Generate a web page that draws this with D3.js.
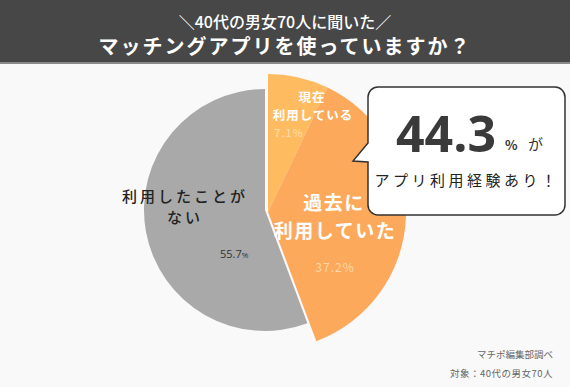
<!DOCTYPE html>
<html>
<head>
<meta charset="utf-8">
<script src="https://cdn.jsdelivr.net/npm/d3@7"></script>
<style>
  body { margin: 0; background: #f9f9f9; }
  svg { display: block; font-family: "Noto Sans CJK JP", "Noto Sans", sans-serif; }
</style>
</head>
<body>
<div id="canvas"></div>
<script>
// data
const categories = ['現在利用している', '過去に利用していた', '利用したことがない'];
const values = [7.1, 37.2, 55.7];
const colors = ['#ffbb60', '#fca95c', '#a9a9a9'];
const usedTotal = 44.3;

const width = 570;
const height = 387;

const svg = d3.select('#canvas')
    .append('svg').attr('width', width).attr('height', height);

svg.append('rect').attr('width', width).attr('height', height).attr('fill', '#f9f9f9');

// header
svg.append('rect').attr('width', width).attr('height', 62).attr('fill', '#474747');
svg.append('rect').attr('y', 62).attr('width', width).attr('height', 2).attr('fill', '#8a8a8a');
svg.append('text')
    .attr('x', width / 2).attr('y', 28)
    .attr('text-anchor', 'middle').attr('fill', '#fff')
    .attr('font-size', 16).attr('font-weight', 500)
    .text('＼40代の男女70人に聞いた／');
svg.append('text')
    .attr('x', width / 2).attr('y', 54)
    .attr('text-anchor', 'middle').attr('fill', '#fff')
    .attr('font-size', 20).attr('font-weight', 700)
    .attr('letter-spacing', 2)
    .text('マッチングアプリを使っていますか？');

// pie
const pie = d3.pie().sort(null).value(d => d);
const arcs = pie(values);

// used slices are pulled out and drawn bigger
const bigArc = d3.arc().innerRadius(0).outerRadius(138);
const smallArc = d3.arc().innerRadius(0).outerRadius(121);

const gGray = svg.append('g').attr('transform', 'translate(265,210)');
gGray.append('path')
    .attr('d', smallArc(arcs[2]))
    .attr('fill', colors[2]);

const gOrange = svg.append('g').attr('transform', 'translate(268,212)');
gOrange.selectAll('path')
    .data(arcs.slice(0, 2))
    .join('path')
    .attr('d', bigArc)
    .attr('fill', (d, i) => colors[i]);

// slice labels
const labelLines = [
    { t: '現在', x: 312, y: 102, size: 12.5, fill: '#fff', weight: 700, ls: 1 },
    { t: '利用している', x: 313, y: 120, size: 12.5, fill: '#fff', weight: 700, ls: 1 },
    { t: values[0] + '%', x: 289, y: 137, size: 11, fill: '#ffe0b0', weight: 400, ls: 1 },
    { t: '過去に', x: 334, y: 210, size: 19, fill: '#fff', weight: 700, ls: 1.5 },
    { t: '利用していた', x: 335, y: 238, size: 19, fill: '#fff', weight: 700, ls: 1.5 },
    { t: values[1] + '%', x: 335, y: 272, size: 12, fill: '#ffd7a8', weight: 400, ls: 1 },
    { t: '利用したことが', x: 185, y: 202, size: 15, fill: '#222', weight: 500, ls: 3 },
    { t: 'ない', x: 185, y: 223, size: 15, fill: '#222', weight: 500, ls: 3 }
];
svg.selectAll('text.slice')
    .data(labelLines)
    .join('text')
    .attr('class', 'slice')
    .attr('x', d => d.x).attr('y', d => d.y)
    .attr('text-anchor', 'middle')
    .attr('font-size', d => d.size)
    .attr('font-weight', d => d.weight)
    .attr('letter-spacing', d => d.ls)
    .attr('fill', d => d.fill)
    .text(d => d.t);

const grayPct = svg.append('text')
    .attr('x', 220).attr('y', 258)
    .attr('font-size', 11).attr('fill', '#333')
    .attr('font-family', '"Open Sans", sans-serif');
grayPct.append('tspan').text(values[2]);
grayPct.append('tspan').attr('font-size', 8).text('%');

// callout box
const bx = 368, by = 87, bw = 197, bh = 128, rr = 10;
const box = d3.path();
box.moveTo(bx + rr, by);
box.lineTo(bx + bw - rr, by);
box.arcTo(bx + bw, by, bx + bw, by + rr, rr);
box.lineTo(bx + bw, by + bh - rr);
box.arcTo(bx + bw, by + bh, bx + bw - rr, by + bh, rr);
box.lineTo(bx + rr, by + bh);
box.arcTo(bx, by + bh, bx, by + bh - rr, rr);
box.lineTo(bx, 162);
box.lineTo(353, 161);
box.lineTo(bx, 143);
box.lineTo(bx, by + rr);
box.arcTo(bx, by, bx + rr, by, rr);
box.closePath();
svg.append('path')
    .attr('d', box.toString())
    .attr('fill', '#fff')
    .attr('stroke', '#333')
    .attr('stroke-width', 1.5);

svg.append('text')
    .attr('x', 396).attr('y', 152)
    .attr('font-size', 50).attr('font-weight', 700)
    .attr('fill', '#3a3a3a')
    .attr('font-family', '"Open Sans", sans-serif')
    .text(usedTotal);
svg.append('text')
    .attr('x', 505).attr('y', 150)
    .attr('font-size', 13).attr('font-weight', 700).attr('fill', '#333')
    .text('%');
svg.append('text')
    .attr('x', 528).attr('y', 150)
    .attr('font-size', 15).attr('fill', '#333')
    .text('が');
svg.append('text')
    .attr('x', 467).attr('y', 186)
    .attr('text-anchor', 'middle')
    .attr('font-size', 15).attr('fill', '#222')
    .attr('letter-spacing', 3.5)
    .text('アプリ利用経験あり！');

// source
svg.append('text')
    .attr('x', 553).attr('y', 358)
    .attr('text-anchor', 'end').attr('font-size', 9.5).attr('fill', '#666')
    .text('マチポ編集部調べ');
svg.append('text')
    .attr('x', 553).attr('y', 377)
    .attr('text-anchor', 'end').attr('font-size', 9.5).attr('fill', '#666')
    .attr('letter-spacing', 0.5)
    .text('対象：40代の男女70人');
</script>
</body>
</html>
